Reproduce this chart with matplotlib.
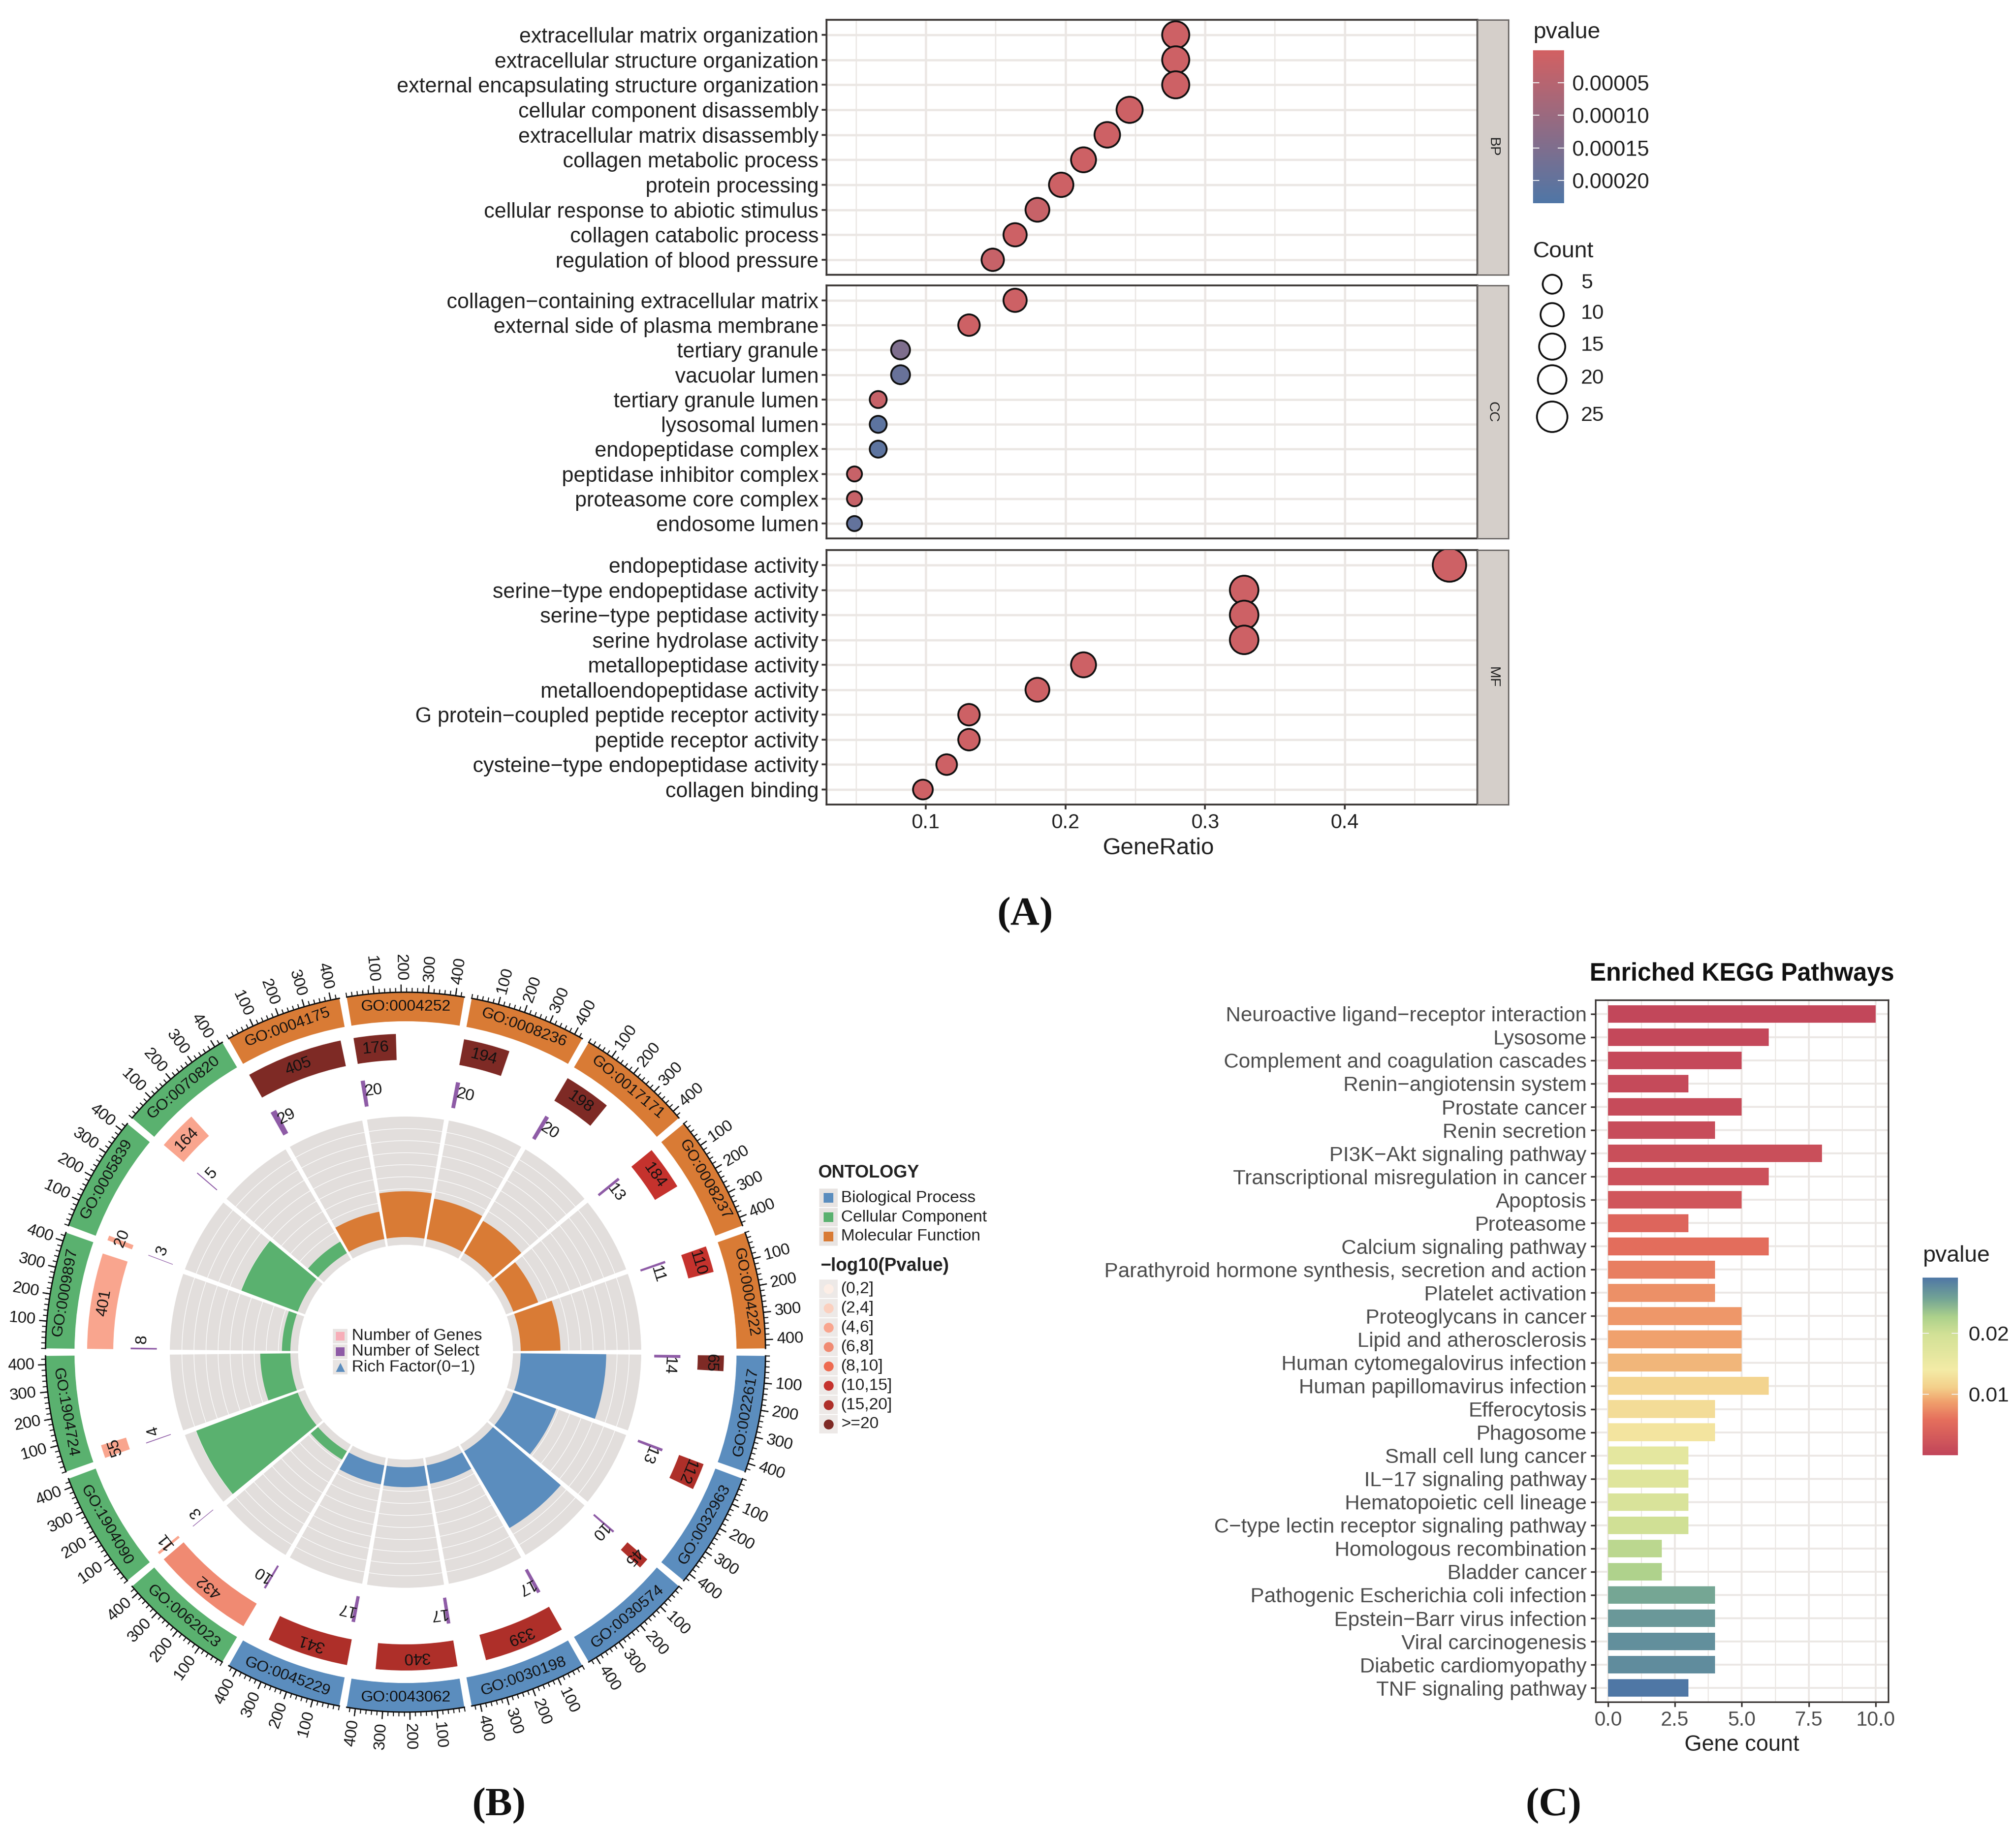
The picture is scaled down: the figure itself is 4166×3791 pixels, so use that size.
import numpy as np
import matplotlib
matplotlib.use('Agg')
import matplotlib.pyplot as plt
from matplotlib.colors import LinearSegmentedColormap, Normalize
from matplotlib.cm import ScalarMappable
from matplotlib.patches import Rectangle

plt.rcParams['font.family'] = ['Liberation Sans', 'DejaVu Sans']

W, H = 4166, 3791

# panel A
bp_terms = ['extracellular matrix organization', 'extracellular structure organization',
            'external encapsulating structure organization', 'cellular component disassembly',
            'extracellular matrix disassembly', 'collagen metabolic process', 'protein processing',
            'cellular response to abiotic stimulus', 'collagen catabolic process',
            'regulation of blood pressure']
bp_ratio = [0.279, 0.279, 0.279, 0.246, 0.230, 0.213, 0.197, 0.180, 0.164, 0.148]
bp_count = [17, 17, 17, 15, 14, 13, 12, 11, 10, 9]
bp_p = [0.00001, 0.00001, 0.00001, 0.00001, 0.00001, 0.00001, 0.00001, 0.00002, 0.00001, 0.00002]

cc_terms = ['collagen\u2212containing extracellular matrix', 'external side of plasma membrane',
            'tertiary granule', 'vacuolar lumen', 'tertiary granule lumen', 'lysosomal lumen',
            'endopeptidase complex', 'peptidase inhibitor complex', 'proteasome core complex',
            'endosome lumen']
cc_ratio = [0.164, 0.131, 0.082, 0.082, 0.066, 0.066, 0.066, 0.049, 0.049, 0.049]
cc_count = [10, 8, 5, 5, 4, 4, 4, 3, 3, 3]
cc_p = [0.00001, 0.00001, 0.00015, 0.00019, 0.00002, 0.00021, 0.00021, 0.00002, 0.00002, 0.00020]

mf_terms = ['endopeptidase activity', 'serine\u2212type endopeptidase activity',
            'serine\u2212type peptidase activity', 'serine hydrolase activity',
            'metallopeptidase activity', 'metalloendopeptidase activity',
            'G protein\u2212coupled peptide receptor activity', 'peptide receptor activity',
            'cysteine\u2212type endopeptidase activity', 'collagen binding']
mf_ratio = [0.475, 0.328, 0.328, 0.328, 0.213, 0.180, 0.131, 0.131, 0.115, 0.098]
mf_count = [29, 20, 20, 20, 13, 11, 8, 8, 7, 6]
mf_p = [0.00001, 0.00001, 0.00001, 0.00001, 0.00001, 0.00001, 0.00001, 0.00001, 0.00001, 0.00001]

legend_counts = [5, 10, 15, 20, 25]

# panel B, clockwise from east
go_ids = ['GO:0022617', 'GO:0032963', 'GO:0030574', 'GO:0030198', 'GO:0043062', 'GO:0045229',
          'GO:0062023', 'GO:1904090', 'GO:1904724', 'GO:0009897', 'GO:0005839', 'GO:0070820',
          'GO:0004175', 'GO:0004252', 'GO:0008236', 'GO:0017171', 'GO:0008237', 'GO:0004222']
go_onto = ['BP'] * 6 + ['CC'] * 6 + ['MF'] * 6
go_genes = [65, 112, 45, 339, 340, 341, 432, 11, 55, 401, 20, 164, 405, 176, 194, 198, 184, 110]
go_select = [14, 13, 10, 17, 17, 17, 10, 3, 4, 8, 3, 5, 29, 20, 20, 20, 13, 11]
go_rich = [0.71, 0.38, 0.74, 0.155, 0.165, 0.16, 0.08, 0.90, 0.25, 0.07, 0.50, 0.11,
           0.23, 0.38, 0.34, 0.31, 0.22, 0.33]
go_class = ['>=20', '(15,20]', '(15,20]', '(15,20]', '(15,20]', '(15,20]', '(6,8]', '(4,6]', '(4,6]',
            '(4,6]', '(4,6]', '(4,6]', '>=20', '>=20', '>=20', '>=20', '(10,15]', '(10,15]']
plog_labels = ['(0,2]', '(2,4]', '(4,6]', '(6,8]', '(8,10]', '(10,15]', '(15,20]', '>=20']
plog_colors = ['#FDEEE6', '#FBD0BF', '#F9A58E', '#F08A72', '#EE6A50', '#C5322D', '#AE2F29', '#7E2A25']
onto_colors = {'BP': '#5B8DBE', 'CC': '#5AB16F', 'MF': '#D97B35'}
onto_names = ['Biological Process', 'Cellular Component', 'Molecular Function']

# panel C
kegg_terms = ['Neuroactive ligand\u2212receptor interaction', 'Lysosome', 'Complement and coagulation cascades',
              'Renin\u2212angiotensin system', 'Prostate cancer', 'Renin secretion', 'PI3K\u2212Akt signaling pathway',
              'Transcriptional misregulation in cancer', 'Apoptosis', 'Proteasome', 'Calcium signaling pathway',
              'Parathyroid hormone synthesis, secretion and action', 'Platelet activation',
              'Proteoglycans in cancer', 'Lipid and atherosclerosis', 'Human cytomegalovirus infection',
              'Human papillomavirus infection', 'Efferocytosis', 'Phagosome', 'Small cell lung cancer',
              'IL\u221217 signaling pathway', 'Hematopoietic cell lineage', 'C\u2212type lectin receptor signaling pathway',
              'Homologous recombination', 'Bladder cancer', 'Pathogenic Escherichia coli infection',
              'Epstein\u2212Barr virus infection', 'Viral carcinogenesis', 'Diabetic cardiomyopathy',
              'TNF signaling pathway']
kegg_count = [10, 6, 5, 3, 5, 4, 8, 6, 5, 3, 6, 4, 4, 5, 5, 5, 6, 4, 4, 3, 3, 3, 3, 2, 2, 4, 4, 4, 4, 3]
kegg_p = [0.0003, 0.0005, 0.0006, 0.0007, 0.0009, 0.0011, 0.0014, 0.0018, 0.0024, 0.0045, 0.0055,
          0.0068, 0.0078, 0.0082, 0.0088, 0.0098, 0.0115, 0.0125, 0.0132, 0.0165, 0.0175, 0.0185,
          0.0200, 0.0215, 0.0225, 0.0255, 0.0265, 0.0272, 0.0275, 0.0290]

INK = '#222222'
GRID = '#EBE7E4'
FRAME = '#3C3836'


def px_axes(x0, y0, x1, y1, **kw):
    return fig.add_axes([x0 / W, 1 - y1 / H, (x1 - x0) / W, (y1 - y0) / H], **kw)


def px_text(x, y, s, **kw):
    kw.setdefault('ha', 'left')
    kw.setdefault('va', 'center')
    fig.text(x / W, 1 - y / H, s, **kw)


def dot_size(c):
    d = np.interp(c, [3, 5, 10, 15, 20, 25, 29], [31, 39, 48, 54, 59, 63, 69])
    return (d / 4.167) ** 2


fig = plt.figure(figsize=(W / 300, H / 300), dpi=300, facecolor='white')

# ---- A: dot plot
cmap_a = LinearSegmentedColormap.from_list('pv', ['#D26062', '#4F76A6'])
norm_a = Normalize(0, 0.000235)
rows = [('BP', bp_terms, bp_ratio, bp_count, bp_p, 41, 568),
        ('CC', cc_terms, cc_ratio, cc_count, cc_p, 590, 1113),
        ('MF', mf_terms, mf_ratio, mf_count, mf_p, 1137, 1663)]
for tag, terms, ratio, count, pv, top, bot in rows:
    ax = px_axes(1708, top, 3053, bot)
    y = np.arange(len(terms))[::-1]
    ax.set_xlim(0.029, 0.495)
    ax.set_ylim(-0.6, 9.6)
    ax.set_axisbelow(True)
    ax.set_xticks([0.1, 0.2, 0.3, 0.4])
    ax.set_xticks([0.05, 0.15, 0.25, 0.35, 0.45], minor=True)
    ax.set_yticks(y)
    ax.set_yticklabels(terms, fontsize=10.5, color=INK)
    ax.grid(True, which='major', color=GRID, lw=1.1)
    ax.grid(True, which='minor', axis='x', color=GRID, lw=0.6)
    ax.tick_params(axis='y', length=2.4, width=0.9, pad=1.5, color=FRAME)
    ax.tick_params(axis='x', which='minor', length=0)
    ax.scatter(ratio, y, s=[dot_size(c) for c in count], c=pv, cmap=cmap_a, norm=norm_a,
               edgecolors='#111111', linewidths=0.9, zorder=3)
    for s in ax.spines.values():
        s.set_color(FRAME)
        s.set_linewidth(0.9)
    if tag == 'MF':
        ax.set_xticklabels(['0.1', '0.2', '0.3', '0.4'], fontsize=10.1, color=INK)
        ax.tick_params(axis='x', length=2.4, width=0.9, pad=2, color=FRAME)
    else:
        ax.tick_params(axis='x', which='both', length=0, labelbottom=False)
    st = px_axes(3053, top, 3117, bot)
    st.set_xticks([])
    st.set_yticks([])
    st.set_facecolor('#D5CFCA')
    for s in st.spines.values():
        s.set_color('#6E6A68')
        s.set_linewidth(0.7)
    st.text(0.5, 0.5, tag, rotation=-90, ha='center', va='center', fontsize=7.2,
            color=INK, transform=st.transAxes)

px_text(2394, 1754, 'GeneRatio', fontsize=11.6, color=INK, ha='center')

px_text(3168, 67, 'pvalue', fontsize=11.3, color=INK)
cax = px_axes(3168, 104, 3232, 420)
cb = fig.colorbar(ScalarMappable(norm=norm_a, cmap=cmap_a), cax=cax)
cax.invert_yaxis()
cb.outline.set_visible(False)
cb.set_ticks([0.00005, 0.00010, 0.00015, 0.00020], labels=['0.00005', '0.00010', '0.00015', '0.00020'])
cax.tick_params(axis='y', direction='in', length=3.2, width=0.5, color='#F0F0F0', left=True, right=True,
                labelsize=10.6, labelcolor=INK, pad=4)

px_text(3168, 520, 'Count', fontsize=11.3, color=INK)
leg_y = [587, 650, 716, 784, 861]
overlay = fig.add_axes([0, 0, 1, 1], zorder=5)
overlay.set_xlim(0, W)
overlay.set_ylim(H, 0)
overlay.axis('off')
overlay.patch.set_alpha(0)
for c, ly in zip(legend_counts, leg_y):
    overlay.scatter([3207], [ly], s=dot_size(c), facecolors='white', edgecolors='#111111', linewidths=0.9)
    overlay.text(3267, ly - 2, str(c), fontsize=10.4, color=INK, va='center', ha='left')

# ---- B: circular GO plot
cx, cy, R = 838, 2795, 830
pol = fig.add_axes([(cx - R) / W, 1 - (cy + R) / H, 2 * R / W, 2 * R / H], projection='polar', zorder=2)
pol.set_theta_zero_location('E')
pol.set_theta_direction(-1)
pol.set_rlim(0, R)
pol.axis('off')
pol.patch.set_alpha(0)

n = len(go_ids)
step = 360 / n
gap = 1.2
sw = step - gap
xmax = 432
R_GRAY = (222, 487)
R_BAR0 = 238
R_SEL = (514, 568)
R_GEN = (604, 658)
R_RING = (684, 744)
deg = np.deg2rad
for i, gid in enumerate(go_ids):
    a0 = i * step + gap / 2
    mid = a0 + sw / 2
    col = onto_colors[go_onto[i]]
    # outer ring
    pol.bar(deg(mid), R_RING[1] - R_RING[0], width=deg(sw), bottom=R_RING[0], color=col, lw=0)
    rot = 90 - mid if mid < 180 else 270 - mid
    pol.text(deg(mid), 714, gid, rotation=rot, rotation_mode='anchor', ha='center', va='center',
             fontsize=7.8, color='#111111')
    # ticks on the ring
    tk = np.arange(0, xmax + 1, 20)
    th = deg(a0 + tk / xmax * sw)
    pol.plot(np.linspace(deg(a0), deg(a0 + sw), 30), [R_RING[1]] * 30, color='#111111', lw=0.7)
    pol.vlines(th, R_RING[1], R_RING[1] + 9, color='#111111', lw=0.5)
    for v in [100, 200, 300, 400]:
        a = a0 + v / xmax * sw
        pol.vlines(deg(a), R_RING[1], R_RING[1] + 16, color='#111111', lw=0.6)
        rr = -a if (a < 90 or a > 270) else 180 - a
        pol.text(deg(a), 795, str(v), rotation=rr, rotation_mode='anchor', ha='center', va='center',
                 fontsize=8.0, color='#111111')
    # genes
    g = go_genes[i]
    wg = g / xmax * sw
    pol.bar(deg(a0 + wg / 2), R_GEN[1] - R_GEN[0], width=deg(wg), bottom=R_GEN[0],
            color=plog_colors[plog_labels.index(go_class[i])], lw=0)
    pol.text(deg(a0 + max(wg / 2, 1.3)), 631, str(g), rotation=270 - (a0 + max(wg / 2, 1.3)),
             rotation_mode='anchor', ha='center', va='center', fontsize=8.0, color='#111111')
    # selected
    s_ = go_select[i]
    ws = s_ / xmax * sw
    pol.bar(deg(a0 + ws / 2), R_SEL[1] - R_SEL[0], width=deg(ws), bottom=R_SEL[0], color='#8E5BA6', lw=0)
    at = a0 + ws / 2 + 2.0
    pol.text(deg(at), 545, str(s_), rotation=270 - at, rotation_mode='anchor', ha='center', va='center',
             fontsize=8.0, color='#111111')
    # rich factor track
    pol.bar(deg(mid), R_GRAY[1] - R_GRAY[0], width=deg(sw), bottom=R_GRAY[0], color='#E2DEDC', lw=0, zorder=1)
    for k in range(1, 10):
        rg = R_BAR0 + k * (R_GRAY[1] - R_BAR0) / 10
        pol.plot(np.linspace(deg(a0), deg(a0 + sw), 30), [rg] * 30, color='white', lw=0.3, zorder=1.5)
    pol.bar(deg(mid), go_rich[i] * (R_GRAY[1] - R_BAR0), width=deg(sw), bottom=R_BAR0, color=col, lw=0, zorder=2)

# centre legend
for ly, lab, c, mk in zip([2762, 2794, 2826], ['Number of Genes', 'Number of Select', 'Rich Factor(0\u22121)'],
                          ['#F7AEB8', '#8E5BA6', '#5B8DBE'], ['s', 's', '^']):
    overlay.add_patch(Rectangle((688, ly - 15), 30, 30, fc='#E8E4E2', ec='none'))
    overlay.scatter([703], [ly], marker=mk, s=20, c=c, linewidths=0)
    overlay.text(727, ly, lab, fontsize=8.2, color=INK, va='center', ha='left')

# side legend
px_text(1691, 2424, 'ONTOLOGY', fontsize=8.8, fontweight='bold', color=INK)
for ly, lab, key in zip([2476, 2516, 2556], onto_names, ['BP', 'CC', 'MF']):
    overlay.add_patch(Rectangle((1693, ly - 19), 38, 38, fc='#E8E4E2', ec='none'))
    overlay.scatter([1712], [ly], marker='s', s=24, c=onto_colors[key], linewidths=0)
    overlay.text(1738, ly, lab, fontsize=8.2, color=INK, va='center', ha='left')
px_text(1695, 2617, '\u2212log10(Pvalue)', fontsize=9.0, fontweight='bold', color=INK)
for j, (lab, c) in enumerate(zip(plog_labels, plog_colors)):
    ly = 2664 + j * 40
    overlay.add_patch(Rectangle((1693, ly - 19), 38, 38, fc='#EDE9E7', ec='none'))
    overlay.scatter([1712], [ly], marker='o', s=24, c=c, linewidths=0)
    overlay.text(1738, ly, lab, fontsize=8.2, color=INK, va='center', ha='left')

# ---- C: KEGG bars
cmap_c = LinearSegmentedColormap.from_list('kegg', [
    (0.0, '#C1455A'), (0.2, '#E56F5C'), (0.3, '#F0A06C'), (0.38, '#F3CF8A'), (0.48, '#F3EBA6'),
    (0.68, '#D2E196'), (0.78, '#ACD18B'), (0.88, '#74A594'), (1.0, '#4F77A5')])
norm_c = Normalize(0, 0.0291)
axc = px_axes(3297, 2067, 3902, 3518)
yc = np.arange(len(kegg_terms))[::-1]
axc.set_xlim(-0.47, 10.47)
axc.set_ylim(-0.6, len(kegg_terms) - 0.4)
axc.set_axisbelow(True)
axc.barh(yc, kegg_count, height=0.76, color=cmap_c(norm_c(kegg_p)), lw=0)
axc.set_yticks(yc)
axc.set_yticklabels(kegg_terms, fontsize=10.25, color='#4D4D4D')
axc.set_xticks([0, 2.5, 5, 7.5, 10])
axc.set_xticklabels(['0.0', '2.5', '5.0', '7.5', '10.0'], fontsize=10.0, color='#4D4D4D')
axc.set_xticks([1.25, 3.75, 6.25, 8.75], minor=True)
axc.grid(True, which='major', color=GRID, lw=0.9)
axc.grid(True, which='minor', axis='x', color=GRID, lw=0.5)
axc.tick_params(axis='both', which='major', length=2.4, width=0.8, pad=2, color=FRAME)
axc.tick_params(axis='x', which='minor', length=0)
for s in axc.spines.values():
    s.set_color(FRAME)
    s.set_linewidth(0.8)
axc.set_xlabel('Gene count', fontsize=11, color=INK, labelpad=2)
px_text(3600, 2014, 'Enriched KEGG Pathways', fontsize=12.2, fontweight='bold', color='#111111', ha='center')

px_text(3973, 2596, 'pvalue', fontsize=11.3, color=INK)
cax2 = px_axes(3973, 2641, 4046, 3008)
cb2 = fig.colorbar(ScalarMappable(norm=norm_c, cmap=cmap_c), cax=cax2)
cb2.outline.set_visible(False)
cb2.set_ticks([0.01, 0.02], labels=['0.01', '0.02'])
cax2.tick_params(axis='y', direction='in', length=3.2, width=0.5, color='#F0F0F0', left=True, right=True,
                 labelsize=10.4, labelcolor=INK, pad=5)

# panel letters
for x, y, t in [(2118, 1892, '(A)'), (1031, 3733, '(B)'), (3210, 3733, '(C)')]:
    fig.text(x / W, 1 - y / H, t, fontsize=20, family='Liberation Serif', fontweight='bold',
             ha='center', va='center', color='#111111')

fig.savefig('out.png', dpi=300)
